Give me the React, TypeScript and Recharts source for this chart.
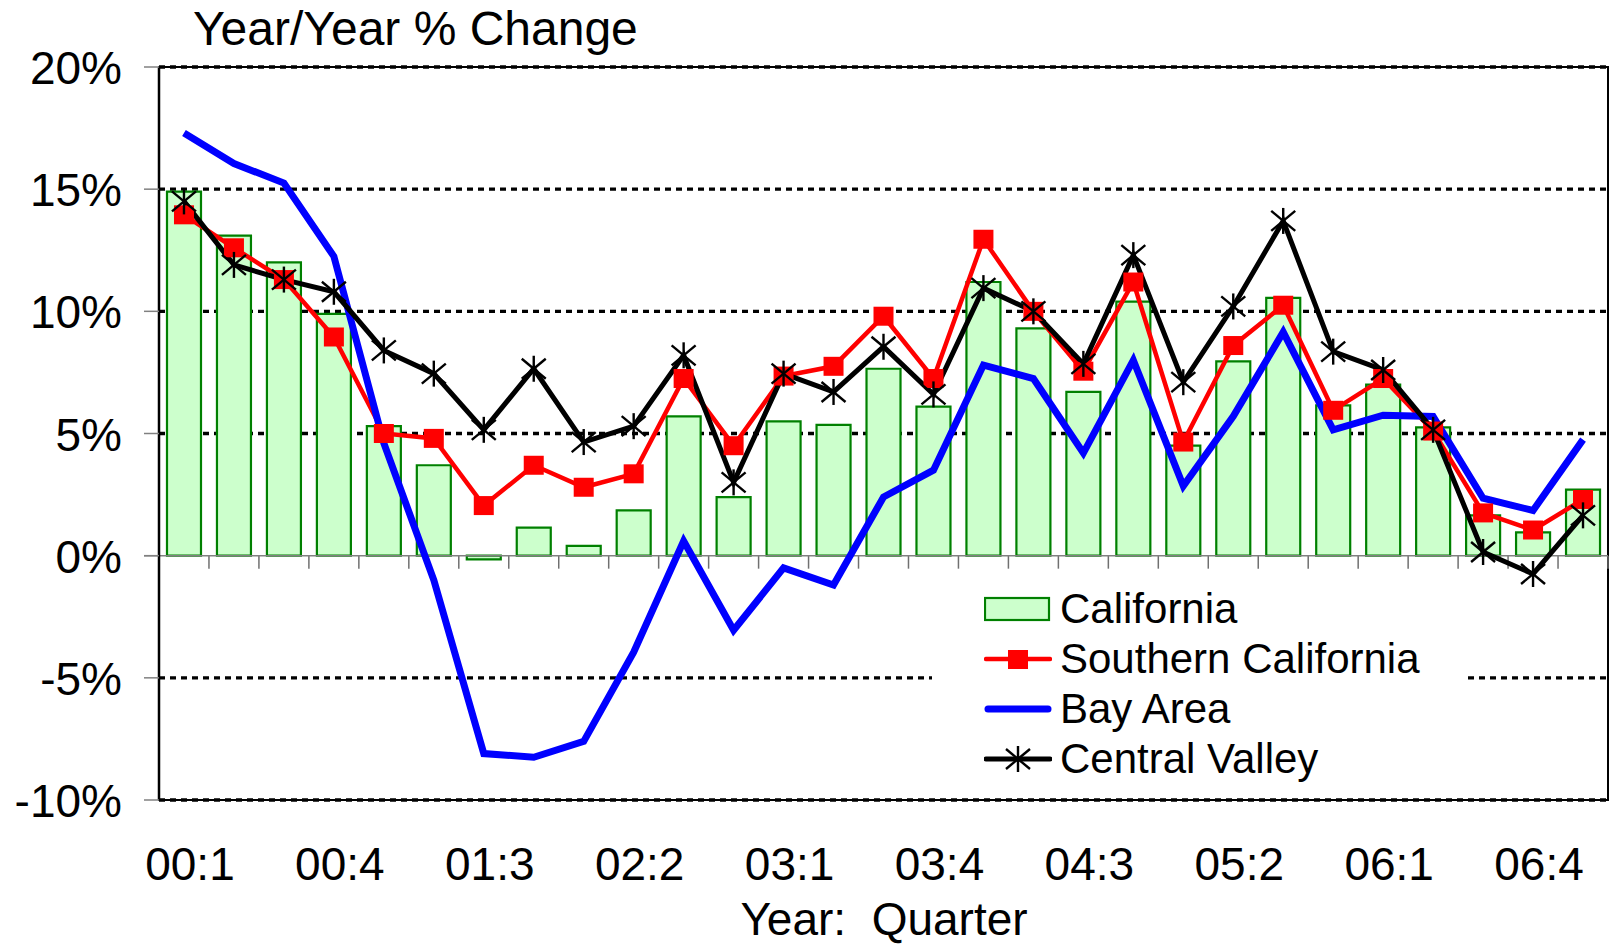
import React from 'react';
import {
  ComposedChart, Bar, Line, XAxis, YAxis, CartesianGrid, ReferenceLine, ReferenceArea, Legend
} from 'recharts';

const quarters = [
  '00:1', '00:2', '00:3', '00:4', '01:1', '01:2', '01:3', '01:4', '02:1', '02:2',
  '02:3', '02:4', '03:1', '03:2', '03:3', '03:4', '04:1', '04:2', '04:3', '04:4',
  '05:1', '05:2', '05:3', '05:4', '06:1', '06:2', '06:3', '06:4', '07:1'
];

const california = [
  14.9, 13.1, 12.0, 9.9, 5.3, 3.7, -0.15, 1.15, 0.4, 1.85,
  5.7, 2.4, 5.5, 5.35, 7.65, 6.1, 11.2, 9.3, 6.7, 10.4,
  4.5, 7.95, 10.55, 6.15, 7.0, 5.25, 1.65, 0.95, 2.7
];
const southernCalifornia = [
  13.95, 12.6, 11.3, 8.95, 5.0, 4.8, 2.05, 3.7, 2.8, 3.35,
  7.25, 4.5, 7.35, 7.75, 9.8, 7.25, 12.95, 10.0, 7.55, 11.2,
  4.65, 8.6, 10.25, 5.95, 7.25, 5.1, 1.75, 1.05, 2.3
];
const bayArea = [
  17.3, 16.05, 15.25, 12.25, 4.6, -1.0, -8.1, -8.25, -7.6, -3.95,
  0.6, -3.05, -0.5, -1.2, 2.4, 3.5, 7.8, 7.25, 4.2, 8.0,
  2.85, 5.7, 9.15, 5.15, 5.75, 5.7, 2.35, 1.85, 4.75
];
const centralValley = [
  14.5, 11.9, 11.3, 10.8, 8.4, 7.45, 5.15, 7.65, 4.65, 5.3,
  8.2, 3.0, 7.45, 6.7, 8.55, 6.6, 10.95, 10.0, 7.85, 12.3,
  7.1, 10.2, 13.7, 8.35, 7.6, 5.15, 0.15, -0.75, 1.65
];

const yTicks = [-10, -5, 0, 5, 10, 15, 20];
const yMin = -10;
const yMax = 20;

const FONT = '"Liberation Sans", Arial, Helvetica, sans-serif';

const data = quarters.map((q, i) => ({
  quarter: q,
  california: california[i],
  southern: southernCalifornia[i],
  bay: bayArea[i],
  central: centralValley[i],
}));

// marcadores
const SquareDot = (props: any) => {
  const { cx, cy, index } = props;
  if (cx == null || cy == null) return null;
  return <rect key={`sq-${index}`} x={cx - 10} y={cy - 9.5} width={20} height={19} fill="#ff0000" />;
};

const StarDot = (props: any) => {
  const { cx, cy, index } = props;
  if (cx == null || cy == null) return null;
  return (
    <g key={`st-${index}`} stroke="#000" strokeWidth={2.4}>
      <line x1={cx} y1={cy - 13} x2={cx} y2={cy + 13} />
      <line x1={cx - 12} y1={cy - 10} x2={cx + 12} y2={cy + 10} />
      <line x1={cx - 12} y1={cy + 10} x2={cx + 12} y2={cy - 10} />
    </g>
  );
};

// grilla punteada detras de las barras; la linea de 0% va aparte
const GridLine = (props: any) => {
  const { x1, x2, y1, y2, y, height, index } = props;
  if (typeof y === 'number' && typeof height === 'number' && height > 0) {
    const v = yMax - ((y1 - y) / height) * (yMax - yMin);
    if (Math.abs(v) < 0.01) return <g key={`g-${index}`} />;
  }
  return (
    <line key={`g-${index}`} x1={x1} y1={y1} x2={x2} y2={y2}
      stroke="#000" strokeWidth={3.3} strokeDasharray="6 5" />
  );
};

// linea de 0% gris con marcas de categoria hacia abajo
const ZeroLine = (props: any) => {
  const { x1, x2, y1 } = props;
  const n = quarters.length;
  const step = (x2 - x1) / n;
  const marks = [];
  for (let k = 0; k <= n; k++) {
    const x = x1 + k * step;
    marks.push(<line key={k} x1={x} y1={y1} x2={x} y2={y1 + 13} stroke="#707070" strokeWidth={1.5} />);
  }
  return (
    <g>
      {marks}
      <line x1={x1 - 15} y1={y1} x2={x2} y2={y1} stroke="#808080" strokeWidth={1.5} />
    </g>
  );
};

const XTick = (props: any) => {
  const { x, y, payload } = props;
  return (
    <text x={x + 6} y={y + 80} textAnchor="middle" fontSize={46} fontFamily={FONT} fill="#000">
      {payload.value}
    </text>
  );
};

const YTick = (props: any) => {
  const { x, y, payload } = props;
  return (
    <text x={x - 22} y={y + 17} textAnchor="end" fontSize={46} fontFamily={FONT} fill="#000">
      {`${payload.value}%`}
    </text>
  );
};

const legendRows = [
  { name: 'California', kind: 'bar' },
  { name: 'Southern California', kind: 'square' },
  { name: 'Bay Area', kind: 'blue' },
  { name: 'Central Valley', kind: 'star' },
];

const LegendIcon = ({ kind }: { kind: string }) => (
  <svg width={68} height={30} style={{ display: 'block' }}>
    {kind === 'bar' && <rect x={1} y={4} width={64} height={22} fill="#ccffcc" stroke="#008000" strokeWidth={2.2} />}
    {kind === 'square' && (
      <g>
        <line x1={2} y1={15} x2={66} y2={15} stroke="#ff0000" strokeWidth={4.5} strokeLinecap="round" />
        <rect x={24} y={6} width={20} height={19} fill="#ff0000" />
      </g>
    )}
    {kind === 'blue' && <line x1={4} y1={15} x2={64} y2={15} stroke="#0000ff" strokeWidth={7} strokeLinecap="round" />}
    {kind === 'star' && (
      <g stroke="#000">
        <line x1={2} y1={15} x2={66} y2={15} strokeWidth={5} strokeLinecap="round" />
        <g strokeWidth={2.4}>
          <line x1={34} y1={2} x2={34} y2={28} />
          <line x1={22} y1={5} x2={46} y2={25} />
          <line x1={22} y1={25} x2={46} y2={5} />
        </g>
      </g>
    )}
  </svg>
);

const LegendBox = () => (
  <div style={{ paddingTop: 2, fontFamily: FONT, fontSize: 42, color: '#000' }}>
    {legendRows.map((r) => (
      <div key={r.name} style={{ display: 'flex', alignItems: 'center', height: 50 }}>
        <div style={{ width: 52 }} />
        <LegendIcon kind={r.kind} />
        <div style={{ width: 8 }} />
        <span style={{ lineHeight: '50px', whiteSpace: 'nowrap' }}>{r.name}</span>
      </div>
    ))}
  </div>
);

export default function App() {
  return (
    <div style={{ position: 'absolute', left: 0, top: 0, width: 1615, height: 945, background: '#fff' }}>
      <div style={{
        position: 'absolute', left: 193, top: 5, fontFamily: FONT, fontSize: 48, lineHeight: '48px',
        color: '#000', whiteSpace: 'pre'
      }}>
        Year/Year % Change
      </div>

      <ComposedChart
        width={1615}
        height={945}
        data={data}
        margin={{ top: 67, right: 7, bottom: 0, left: 0 }}
        barCategoryGap="16%"
      >
        <CartesianGrid vertical={false} horizontal={GridLine} />
        <XAxis
          dataKey="quarter"
          interval={2}
          height={145}
          tickLine={false}
          axisLine={false}
          tickSize={0}
          tickMargin={0}
          tick={<XTick />}
        />
        <YAxis
          type="number"
          domain={[yMin, yMax]}
          ticks={yTicks}
          width={159}
          axisLine={{ stroke: '#000', strokeWidth: 2.5 }}
          tickLine={{ stroke: '#808080', strokeWidth: 1.5 }}
          tickSize={15}
          tickMargin={0}
          tick={<YTick />}
        />
        <ReferenceLine y={0} shape={<ZeroLine />} ifOverflow="visible" />
        <ReferenceArea y1={yMin} y2={yMax} fill="none" stroke="#000" strokeWidth={2} ifOverflow="visible" />
        <Bar dataKey="california" name="California" fill="#ccffcc" stroke="#008000" strokeWidth={2.2} isAnimationActive={false} />
        <Line dataKey="southern" name="Southern California" type="linear" stroke="#ff0000" strokeWidth={4.5}
          dot={SquareDot} activeDot={false} isAnimationActive={false} />
        <Line dataKey="bay" name="Bay Area" type="linear" stroke="#0000ff" strokeWidth={7}
          dot={false} activeDot={false} isAnimationActive={false} />
        <Line dataKey="central" name="Central Valley" type="linear" stroke="#000" strokeWidth={5}
          dot={StarDot} activeDot={false} isAnimationActive={false} />
        <Legend
          layout="vertical"
          align="center"
          verticalAlign="middle"
          content={<LegendBox />}
          wrapperStyle={{ left: 932, top: 582, width: 531, height: 200, background: '#fff' }}
        />
      </ComposedChart>

      <div style={{
        position: 'absolute', left: 884, top: 896, transform: 'translateX(-50%)', fontFamily: FONT,
        fontSize: 46, lineHeight: '46px', color: '#000', whiteSpace: 'pre'
      }}>
        Year:  Quarter
      </div>
    </div>
  );
}
